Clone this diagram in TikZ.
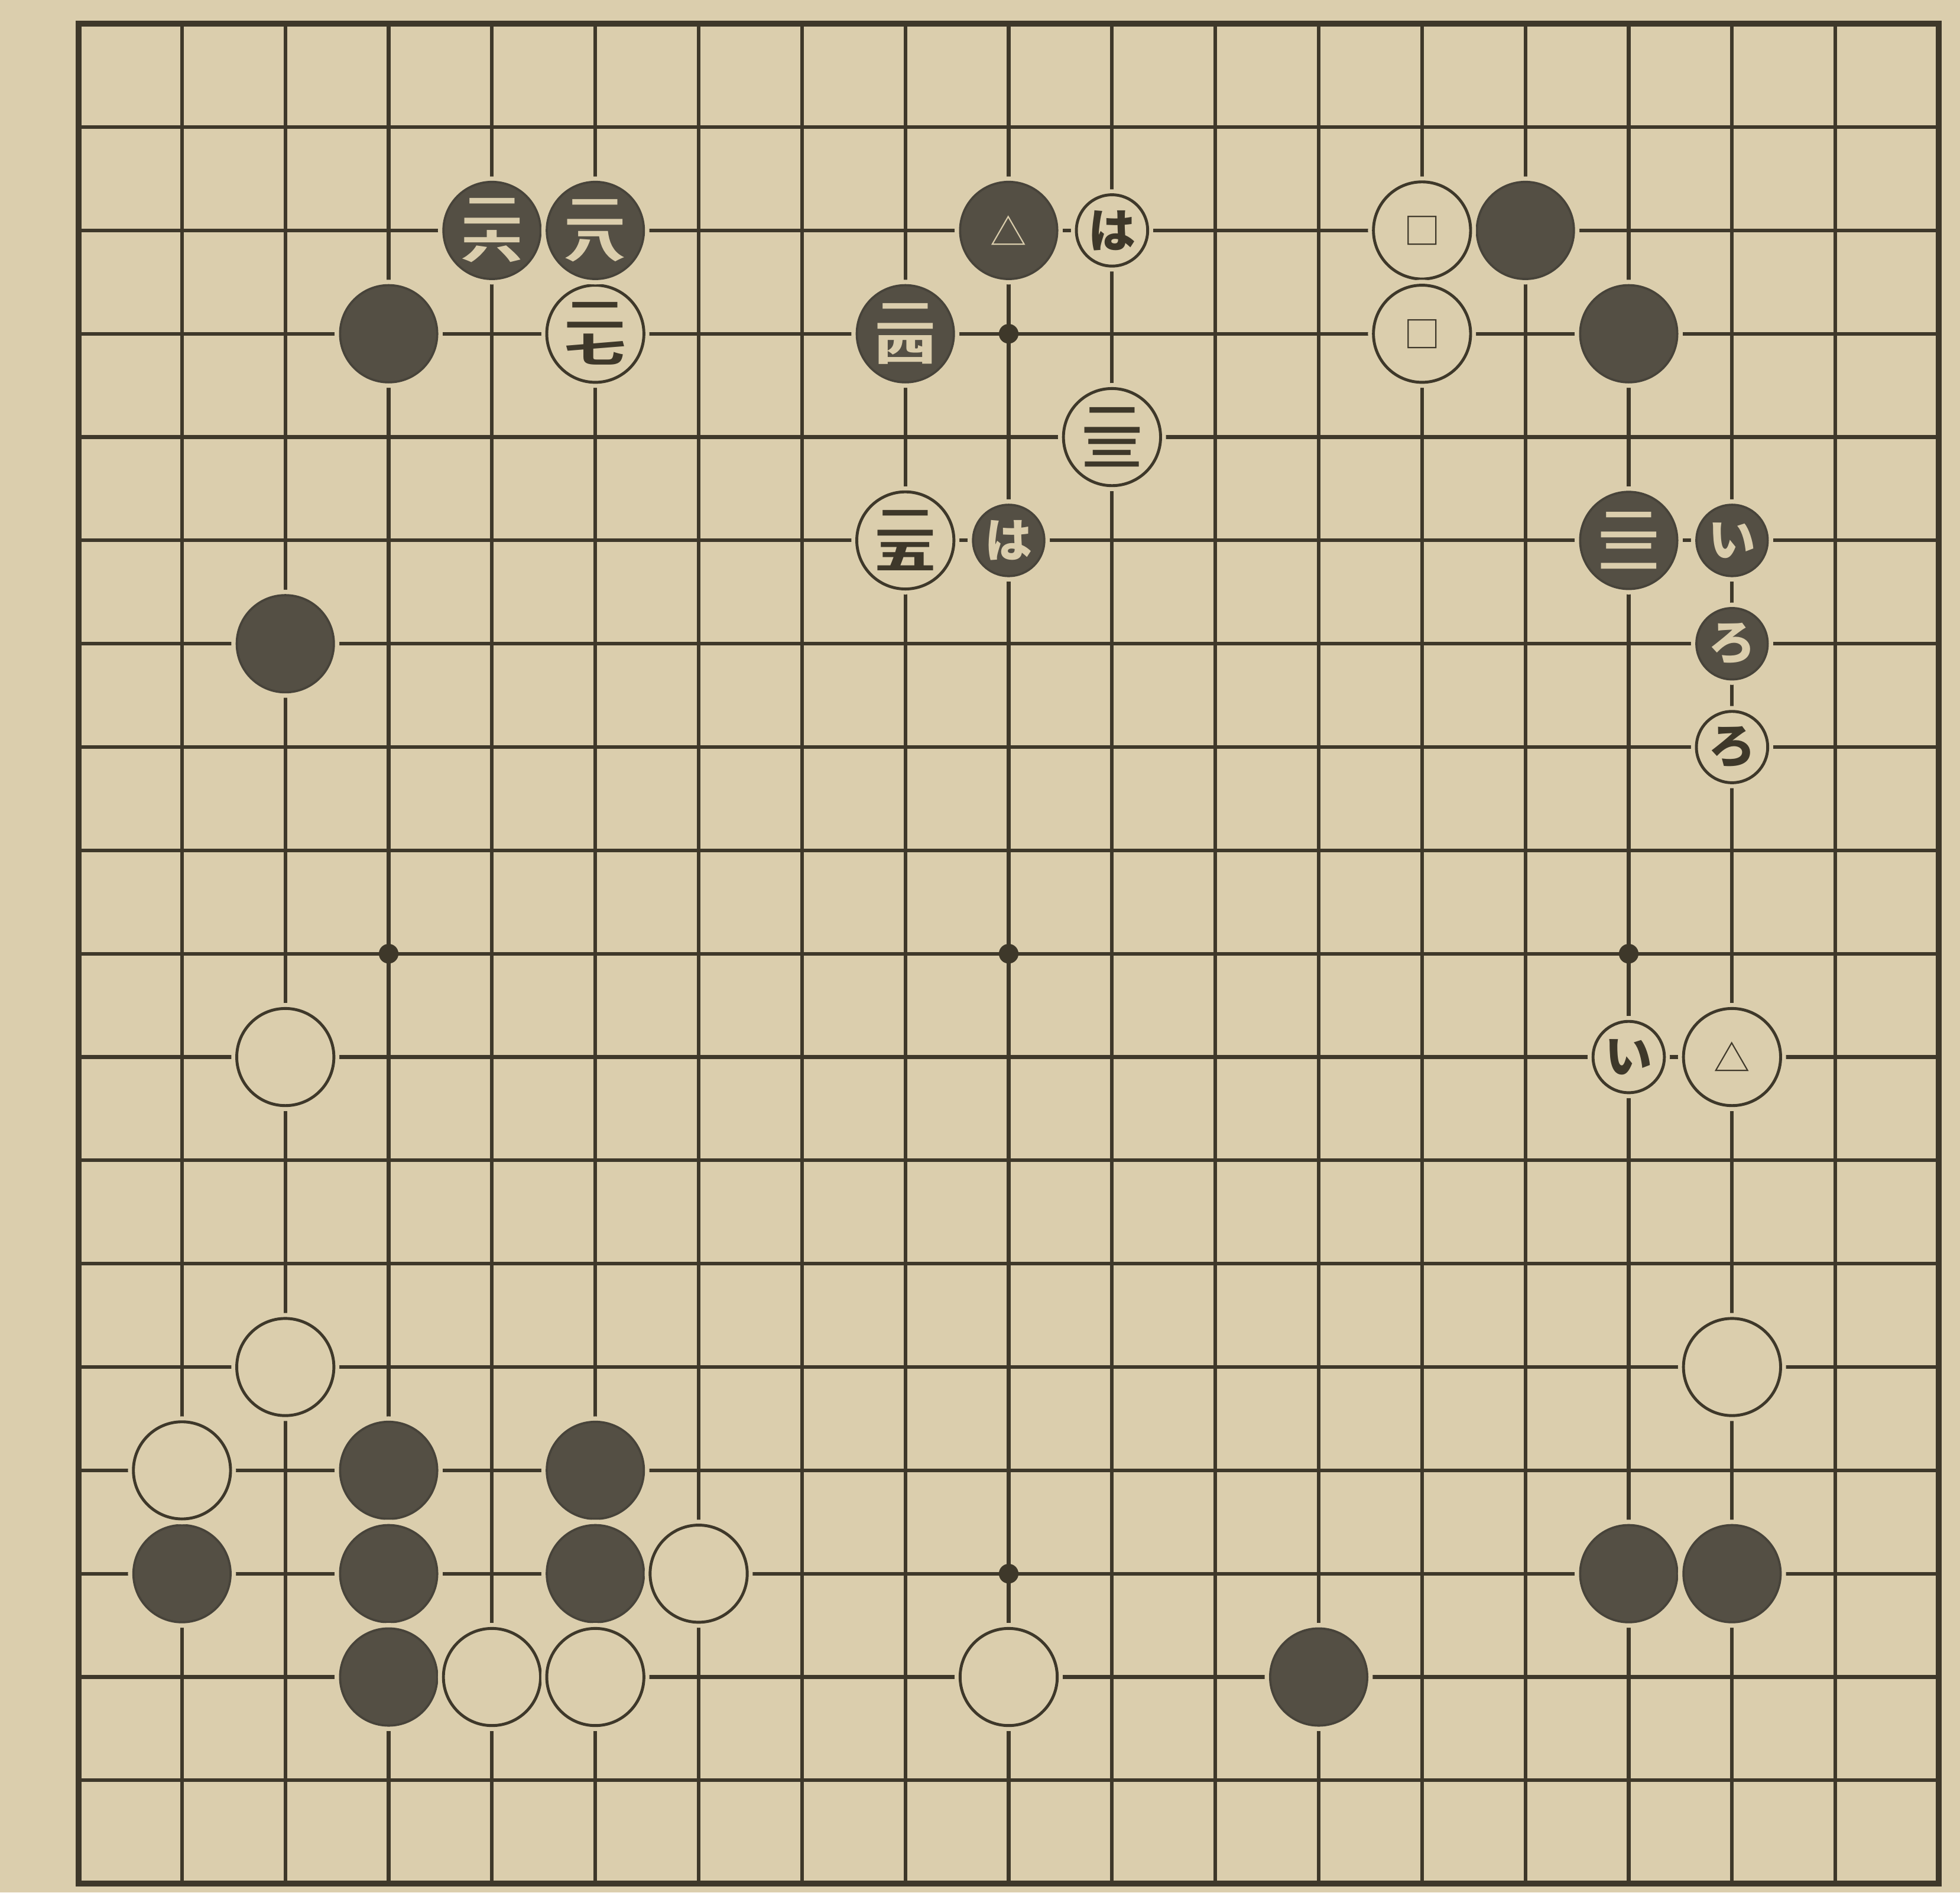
\documentclass[tikz,border=0pt]{standalone}
\usepackage{fontspec}
\usepackage{graphicx}
\usepackage{xcolor}
\usetikzlibrary{positioning, calc}
\newfontfamily\jpfont{Noto Sans CJK JP}

\definecolor{paper}{RGB}{219,206,173}
\definecolor{ink}{RGB}{62,56,42}
\definecolor{stoneblk}{RGB}{84,79,68}

% two-digit move number, one digit above the other
\newcommand{\movenum}[2]{\scalebox{1}[0.56]{\shortstack{#1\\#2}}}

\tikzset{
    gridline/.style={ink, line width=1pt},
    boardedge/.style={ink, line width=1.6pt},
    bstone/.style={circle, minimum size=0.94cm, inner sep=0pt,
        fill=stoneblk, draw=stoneblk!85!black, line width=0.6pt, text=paper,
        font=\jpfont\bfseries\fontsize{17}{17}\selectfont,
        preaction={draw=paper, line width=3pt}},
    wstone/.style={circle, minimum size=0.94cm, inner sep=0pt,
        fill=paper, draw=ink, line width=0.8pt, text=ink,
        font=\jpfont\bfseries\fontsize{17}{17}\selectfont,
        preaction={draw=paper, line width=3pt}},
    sbstone/.style={bstone, minimum size=0.69cm, font=\jpfont\bfseries\fontsize{13}{13}\selectfont},
    swstone/.style={wstone, minimum size=0.69cm, font=\jpfont\bfseries\fontsize{13}{13}\selectfont},
    symb/.style={font=\jpfont\fontsize{10}{10}\selectfont},
    starpt/.style={circle, fill=ink, minimum size=0.19cm, inner sep=0pt}
}

\begin{document}
\begin{tikzpicture}[x=1cm, y=-1cm]

    % =========================================================================
    % PAPER AND BOARD
    % =========================================================================
    \useasboundingbox (0.239,0.77) rectangle (19.206,19.085);
    \fill[paper] (0.239,0.77) rectangle (19.206,19.085);

    % Grid lines
    \foreach \i in {2,...,18} {
        \draw[gridline] (\i,1) -- (\i,19);
        \draw[gridline] (1,\i) -- (19,\i);
    }
    \draw[boardedge] (1,1) rectangle (19,19);

    % Star points
    \foreach \c in {4,10,16}
        \foreach \r in {4,10,16}
            \node[starpt] (star-\c-\r) at (\c,\r) {};

    % =========================================================================
    % PLAIN STONES
    % =========================================================================
    \foreach \c/\r in {4/4, 15/3, 16/4, 3/7, 4/15, 6/15, 2/16, 4/16, 6/16,
                       16/16, 17/16, 4/17, 13/17}
        \node[bstone] (b-\c-\r) at (\c,\r) {};

    \foreach \c/\r in {3/11, 3/14, 17/14, 2/15, 7/16, 5/17, 6/17, 10/17}
        \node[wstone] (w-\c-\r) at (\c,\r) {};

    % =========================================================================
    % NUMBERED AND MARKED STONES
    % =========================================================================
    \node[bstone] (b22) at (16,6) {\movenum{二}{二}};
    \node[wstone] (w23) at (11,5) {\movenum{二}{三}};
    \node[bstone] (b24) at (9,4)  {\movenum{二}{四}};
    \node[wstone] (w25) at (9,6)  {\movenum{二}{五}};
    \node[bstone] (b26) at (5,3)  {\movenum{二}{六}};
    \node[wstone] (w27) at (6,4)  {\movenum{二}{七}};
    \node[bstone] (b28) at (6,3)  {\movenum{二}{八}};

    \node[bstone, symb] (btri) at (10,3) {△};
    \node[wstone, symb] (wtri) at (17,11) {△};
    \node[wstone, symb] (wsqa) at (14,3) {□};
    \node[wstone, symb] (wsqb) at (14,4) {□};

    % Lettered stones
    \node[swstone] (wha) at (11,3) {は};
    \node[sbstone] (bha) at (10,6) {は};
    \node[sbstone] (bi)  at (17,6) {い};
    \node[sbstone] (bro) at (17,7) {ろ};
    \node[swstone] (wro) at (17,8) {ろ};
    \node[swstone] (wi)  at (16,11) {い};

\end{tikzpicture}
\end{document}
